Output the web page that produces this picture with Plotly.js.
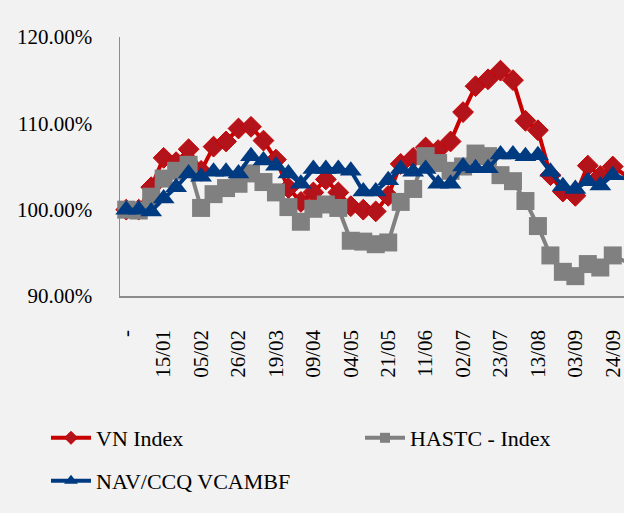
<!DOCTYPE html>
<html><head><meta charset="utf-8">
<script src="https://cdn.plot.ly/plotly-3.0.1.min.js"></script>
<style>html,body{margin:0;padding:0;background:#f2f2f2}</style>
</head><body><div id="chart" style="width:624px;height:513px"></div>
<script>
// Tick labels shown every 3rd weekly point
const tickLabels = ["-","15/01","05/02","26/02","19/03","09/04","04/05","21/05","11/06","02/07","23/07","13/08","03/09","24/09"];
const tickStep = 3;

// Series values (% of base)
const vnIndex = [100.0,100.0,102.6,106.0,105.5,107.0,104.5,107.3,107.9,109.4,
  109.6,108.0,105.8,102.5,100.9,102.0,103.5,102.0,100.4,100.0,
  99.8,101.6,105.3,106.0,107.2,106.9,107.9,111.3,114.3,115.1,
  116.1,115.0,110.3,109.2,104.0,102.1,101.6,105.1,103.9,105.0,104.0];
const hastcIndex = [100.0,99.9,101.5,103.6,104.5,105.2,100.2,101.8,102.5,103.0,
  104.2,103.2,102.0,100.3,98.6,100.1,100.6,100.2,96.4,96.3,
  96.0,96.2,100.9,102.4,106.2,105.4,104.5,105.0,106.5,106.2,
  104.0,103.3,101.0,98.1,94.7,92.8,92.3,93.7,93.3,94.7,94.0];
const navVcambf = [100.0,100.0,99.8,101.3,102.6,104.2,103.8,104.4,104.4,104.2,
  106.2,105.7,105.1,104.2,103.0,104.7,104.7,104.7,104.5,102.1,
  102.1,103.4,104.7,104.4,104.7,103.0,103.0,105.0,104.8,104.8,
  106.4,106.4,106.2,106.3,104.4,102.7,102.4,103.3,102.8,104.0,103.6];
const seriesNames = ["VN Index","HASTC - Index","NAV/CCQ VCAMBF"];

const xIdx = vnIndex.map((_, i) => i);
const tickPos = tickLabels.map((_, k) => k * tickStep);
const FONT = "Liberation Serif, Times New Roman, serif";

const styles = [
  {line: {color: "#c80000", width: 4}, symbol: "diamond", size: 16, lsize: 10, color: "#b3141c", mline: {color: "#cc0000", width: 1}},
  {line: {color: "#808080", width: 4}, symbol: "square", size: 18, lsize: 10, color: "#808080", mline: {width: 0}},
  {line: {color: "#003a80", width: 4}, symbol: "triangle-up", size: 19, lsize: 12, color: "#003a80", mline: {width: 0}}
];
const series = [vnIndex, hastcIndex, navVcambf];
const legendIds = ["legend", "legend2", "legend3"];

const traces = [];
series.forEach((vals, k) => {
  const s = styles[k];
  traces.push({x: xIdx, y: vals, name: seriesNames[k], type: "scatter", mode: "lines+markers",
    line: s.line, marker: {symbol: s.symbol, size: s.size, color: s.color, line: s.mline},
    cliponaxis: false, showlegend: false});
});
// legend-only entries with smaller sample markers
series.forEach((vals, k) => {
  const s = styles[k];
  traces.push({x: [null], y: [null], name: seriesNames[k], type: "scatter", mode: "lines+markers",
    line: s.line, marker: {symbol: s.symbol, size: s.lsize, color: s.color, line: s.mline},
    showlegend: true, legend: legendIds[k]});
});

function legendAt(px, py) {
  return {
    orientation: "h", xref: "container", yref: "container",
    x: px / 624, y: 1 - py / 513, xanchor: "left", yanchor: "top",
    itemwidth: 40,
    bgcolor: "rgba(0,0,0,0)", font: {family: FONT, size: 22, color: "#000"}
  };
}

const layout = {
  width: 624, height: 513,
  paper_bgcolor: "#f2f2f2", plot_bgcolor: "#f2f2f2",
  margin: {l: 120, r: 0, t: 37, b: 217, autoexpand: false},
  font: {family: FONT, size: 21, color: "#000"},
  showlegend: true,
  xaxis: {
    range: [-0.5, 39.9], tickmode: "array", tickvals: tickPos, ticktext: tickLabels,
    tickangle: -90, showline: true, linecolor: "#8c8c8c", linewidth: 1.5,
    showgrid: false, zeroline: false, ticks: "", ticklabelstandoff: 24,
    ticklabeloverflow: "allow",
    tickfont: {family: FONT, size: 21, color: "#000"}, layer: "below traces", fixedrange: true
  },
  yaxis: {
    range: [90, 120], dtick: 10, tick0: 90, tickformat: ".2f", ticksuffix: "%",
    showline: true, linecolor: "#8c8c8c", linewidth: 1.5,
    showgrid: false, zeroline: false, ticks: "", ticklabelstandoff: 22,
    ticklabeloverflow: "allow",
    tickfont: {family: FONT, size: 21, color: "#000"}, layer: "below traces", fixedrange: true
  },
  legend: legendAt(46, 417),
  legend2: legendAt(360, 417),
  legend3: legendAt(46, 460)
};

Plotly.newPlot("chart", traces, layout, {displayModeBar: false, staticPlot: true});
</script>
</body></html>
